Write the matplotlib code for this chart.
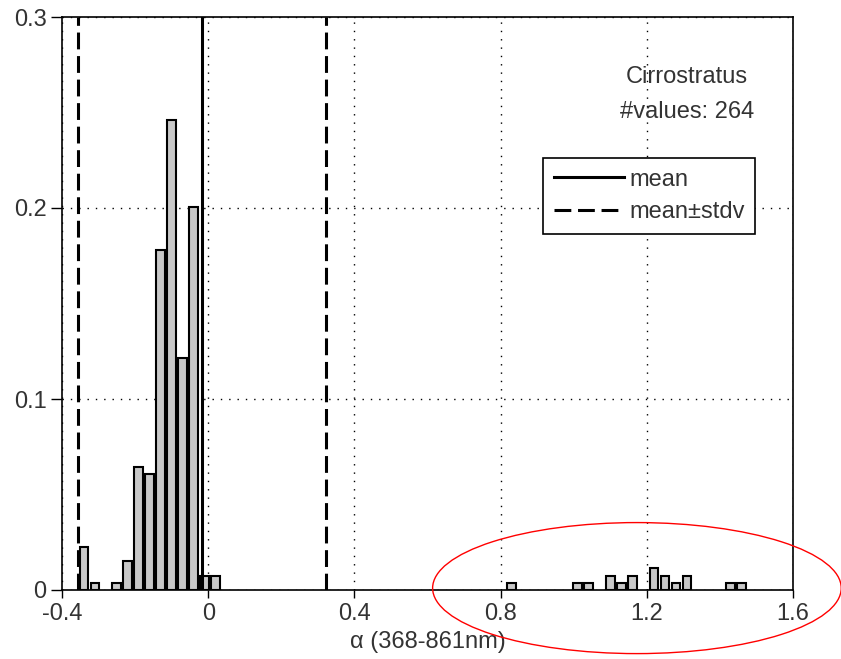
import matplotlib
matplotlib.use("Agg")
import matplotlib.pyplot as plt
from matplotlib.patches import Ellipse
from matplotlib.lines import Line2D

plt.rcParams['font.family'] = ['Liberation Sans', 'DejaVu Sans']

# histogram bin centers and counts (264 values total)
bin_centers = [-0.34, -0.31, -0.25, -0.22, -0.19, -0.16, -0.13, -0.10, -0.07, -0.04, -0.01, 0.02,
               0.83, 1.01, 1.04, 1.10, 1.13, 1.16, 1.22, 1.25, 1.28, 1.31, 1.43, 1.46]
counts = [6, 1, 1, 4, 17, 16, 47, 65, 32, 53, 2, 2,
          1, 1, 1, 2, 1, 2, 3, 2, 1, 2, 1, 1]
n_values = 264
mean_val = -0.018
stdv_val = 0.339

x_ticks = [-0.4, 0, 0.4, 0.8, 1.2, 1.6]
x_ticklabels = ['-0.4', '0', '0.4', '0.8', '1.2', '1.6']
y_ticks = [0, 0.1, 0.2, 0.3]
y_ticklabels = ['0', '0.1', '0.2', '0.3']

freq = [c / n_values for c in counts]

FS = 17

fig = plt.figure(figsize=(8.41, 6.59), dpi=100)
ax = fig.add_axes([62/841, 1-590/659, (793-62)/841, (590-17)/659])

ax.bar(bin_centers, freq, width=0.024, color='#c8c8c8', edgecolor='black', linewidth=1.5, zorder=2)

dash = (0, (5.5, 2.2))
ax.axvline(mean_val, color='black', lw=2.2, zorder=3)
ax.axvline(mean_val - stdv_val, color='black', lw=2.2, ls=dash, zorder=3)
ax.axvline(mean_val + stdv_val, color='black', lw=2.2, ls=dash, zorder=3)

ax.set_xlim(-0.4, 1.6)
ax.set_ylim(0, 0.3)
ax.set_xticks(x_ticks)
ax.set_xticklabels(x_ticklabels)
ax.set_yticks(y_ticks)
ax.set_yticklabels(y_ticklabels)
ax.tick_params(axis='both', direction='out', labelsize=FS, width=1, color='black', labelcolor='#333333')
ax.tick_params(axis='x', length=6, pad=3)
ax.tick_params(axis='y', length=8, pad=3)

ax.grid(True, color='black', ls=(0, (1, 5)), lw=1.0, zorder=0)
ax.set_axisbelow(True)

for s in ax.spines.values():
    s.set_linewidth(1.2)

ax.set_xlabel('α (368-861nm)', fontsize=FS, color='#333333', labelpad=5)

ax.text(0.855, 0.895, 'Cirrostratus', transform=ax.transAxes, ha='center', va='center', fontsize=FS, color='#333333')
ax.text(0.855, 0.835, '#values: 264', transform=ax.transAxes, ha='center', va='center', fontsize=FS, color='#333333')

handles = [Line2D([], [], color='black', lw=2.2),
           Line2D([], [], color='black', lw=2.2, ls=(0, (5.5, 2.2)))]
leg = ax.legend(handles, ['mean', 'mean±stdv'], loc='upper left',
                bbox_to_anchor=((543-62)/731, 1-(158-17)/573),
                fontsize=FS, frameon=True, fancybox=False, framealpha=1,
                edgecolor='black', handlelength=3.0, handletextpad=0.2,
                borderpad=0.45, labelspacing=0.45, borderaxespad=0)
leg.get_frame().set_linewidth(1.2)
for t in leg.get_texts():
    t.set_color('#333333')

ell = Ellipse((1.173, 0.001), width=1.118, height=0.0686, fill=False, edgecolor='red',
              lw=1.0, clip_on=False, zorder=5)
ax.add_patch(ell)

fig.savefig('out.png', dpi=100)
